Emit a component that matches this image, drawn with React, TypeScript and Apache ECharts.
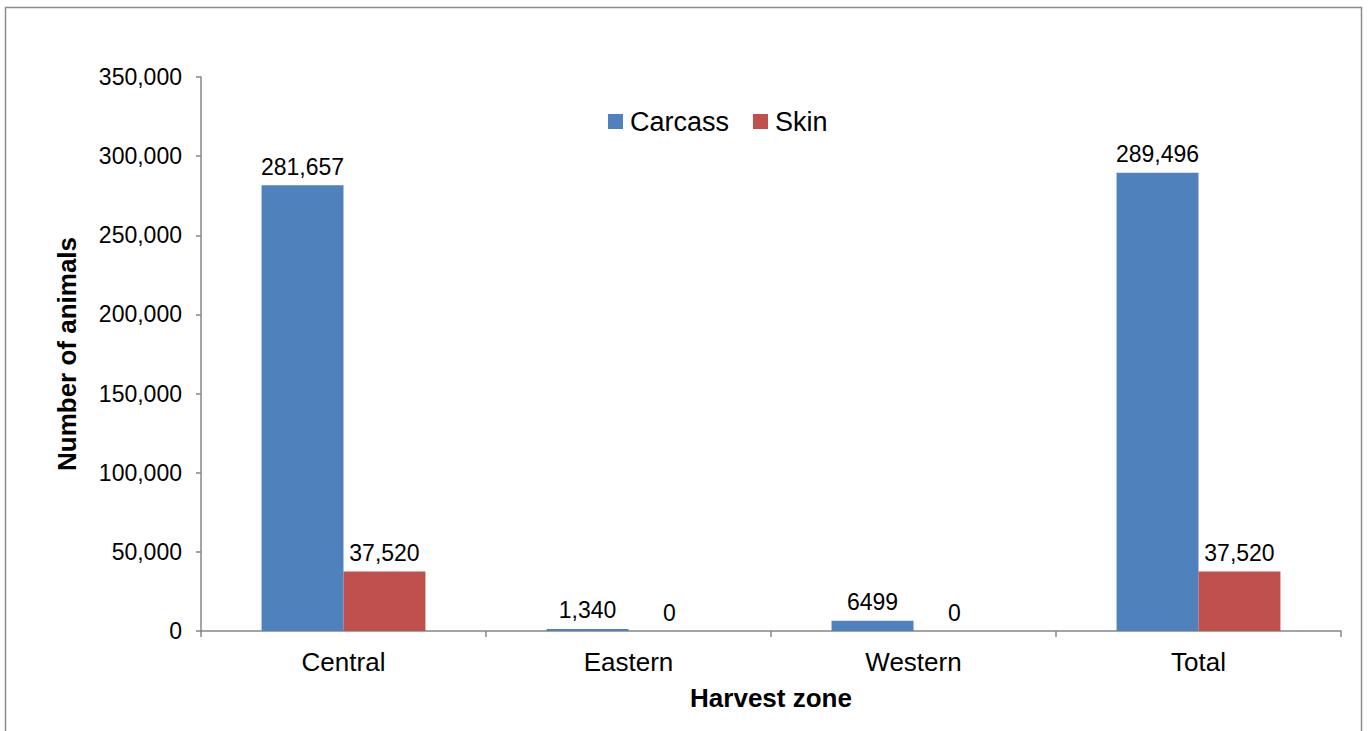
import React, { useEffect, useRef } from "react";
import * as echarts from "echarts";

const categories = ["Central", "Eastern", "Western", "Total"];
const carcass = [281657, 1340, 6499, 289496];
const skin = [37520, 0, 0, 37520];
const carcassLabels = ["281,657", "1,340", "6499", "289,496"];
const skinLabels = ["37,520", "0", "0", "37,520"];
const yTicks = [0, 50000, 100000, 150000, 200000, 250000, 300000, 350000];

const FONT = "'Liberation Sans', Arial, sans-serif";

export default function App() {
  const ref = useRef<HTMLDivElement>(null);
  useEffect(() => {
    document.body.style.margin = "0";
    const chart = echarts.init(ref.current!, null, { renderer: "svg" });
    chart.setOption({
      animation: false,
      backgroundColor: "#ffffff",
      textStyle: { fontFamily: FONT },
      graphic: [
        {
          type: "rect",
          shape: { x: 5.5, y: 7.5, width: 1356, height: 740 },
          style: { fill: "none", stroke: "#8c8c8c", lineWidth: 1.5 },
          silent: true,
        },
      ],
      legend: {
        top: 103,
        left: 603,
        itemWidth: 15,
        itemHeight: 15,
        itemGap: 24,
        icon: "rect",
        textStyle: { fontSize: 27, color: "#000", fontFamily: FONT, padding: [0, 0, 0, 2] },
        data: ["Carcass", "Skin"],
      },
      grid: { left: 201, right: 27, top: 77, bottom: 100, containLabel: false },
      xAxis: {
        type: "category",
        data: categories,
        name: "Harvest zone",
        nameLocation: "middle",
        nameGap: 54,
        nameTextStyle: { fontSize: 26, fontWeight: "bold", color: "#000", fontFamily: FONT },
        axisLine: { lineStyle: { color: "#868686", width: 1.5 } },
        axisTick: { show: true, length: 6, lineStyle: { color: "#868686", width: 1.5 } },
        axisLabel: { fontSize: 26, color: "#000", margin: 18, fontFamily: FONT },
      },
      yAxis: {
        type: "value",
        min: 0,
        max: yTicks[yTicks.length - 1],
        interval: yTicks[1] - yTicks[0],
        name: "Number of animals",
        nameLocation: "middle",
        nameGap: 121,
        nameTextStyle: { fontSize: 26, fontWeight: "bold", color: "#000", fontFamily: FONT },
        axisLine: { show: true, lineStyle: { color: "#868686", width: 1.5 } },
        axisTick: { show: true, length: 5, lineStyle: { color: "#868686", width: 1.5 } },
        splitLine: { show: false },
        axisLabel: {
          fontSize: 23,
          color: "#000",
          margin: 19,
          fontFamily: FONT,
          formatter: (v: number) => v.toLocaleString("en-US"),
        },
      },
      series: [
        {
          name: "Carcass",
          type: "bar",
          data: carcass,
          barGap: "0%",
          barCategoryGap: "42.5%",
          itemStyle: { color: "#4F81BD" },
          label: {
            show: true,
            position: "top",
            distance: 7,
            fontSize: 23,
            color: "#000",
            fontFamily: FONT,
            formatter: (p: any) => carcassLabels[p.dataIndex],
          },
        },
        {
          name: "Skin",
          type: "bar",
          data: skin,
          barGap: "0%",
          barCategoryGap: "42.5%",
          itemStyle: { color: "#C0504D" },
          label: {
            show: true,
            position: "top",
            distance: 7,
            fontSize: 23,
            color: "#000",
            fontFamily: FONT,
            formatter: (p: any) => skinLabels[p.dataIndex],
          },
        },
      ],
    });
    return () => chart.dispose();
  }, []);
  return <div ref={ref} style={{ width: 1368, height: 731 }} />;
}
